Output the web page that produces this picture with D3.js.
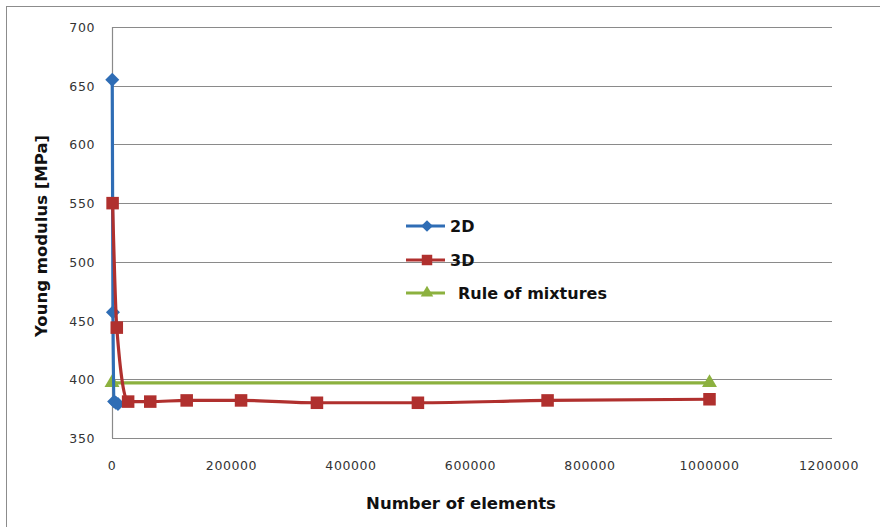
<!DOCTYPE html>
<html>
<head>
<meta charset="utf-8">
<script src="https://cdn.jsdelivr.net/npm/d3@7"></script>
<style>
  body { margin: 0; background: #fff; }
  svg { display: block; font-family: "DejaVu Sans", Verdana, sans-serif; }
</style>
</head>
<body>
<svg id="chart" width="880" height="527"></svg>
<script>
// data
var elements2D = [400, 1600, 3600, 6400, 10000];
var modulus2D = [655, 457, 381, 380, 379];
var elements3D = [1000, 8000, 27000, 64000, 125000, 216000, 343000, 512000, 729000, 1000000];
var modulus3D = [550, 444, 381, 381, 382, 382, 380, 380, 382, 383];
var elementsRule = [0, 1000000];
var modulusRule = [397, 397];
var xTicks = [0, 200000, 400000, 600000, 800000, 1000000, 1200000];
var yTicks = [350, 400, 450, 500, 550, 600, 650, 700];
var seriesNames = ["2D", "3D", "Rule of mixtures"];

var svg = d3.select("#chart");

var x = d3.scaleLinear().domain([0, 1200000]).range([112, 829]);
var y = d3.scaleLinear().domain([350, 700]).range([438, 27]);

// outer chart border (runs off the right and bottom edge)
svg.append("rect")
  .attr("x", 6.5).attr("y", 6.5)
  .attr("width", 900).attr("height", 540)
  .attr("fill", "none")
  .attr("stroke", "#8c8c8c")
  .attr("stroke-width", 1);

// horizontal grid lines
svg.append("g")
  .selectAll("line")
  .data(yTicks)
  .join("line")
  .attr("x1", x(0)).attr("x2", 832)
  .attr("y1", function(d) { return Math.round(y(d)) + 0.5; })
  .attr("y2", function(d) { return Math.round(y(d)) + 0.5; })
  .attr("stroke", "#8a8a8a")
  .attr("stroke-width", 1.2);

// left axis line
svg.append("line")
  .attr("x1", x(0) + 0.5).attr("x2", x(0) + 0.5)
  .attr("y1", y(700)).attr("y2", y(350))
  .attr("stroke", "#8a8a8a")
  .attr("stroke-width", 1.2);

// tick labels
svg.append("g")
  .selectAll("text")
  .data(yTicks)
  .join("text")
  .attr("x", 95)
  .attr("y", function(d) { return y(d) + 5; })
  .attr("text-anchor", "end")
  .attr("font-size", 12.5)
  .attr("letter-spacing", 0.6)
  .attr("fill", "#333")
  .text(function(d) { return d; });

svg.append("g")
  .selectAll("text")
  .data(xTicks)
  .join("text")
  .attr("x", function(d) { return x(d); })
  .attr("y", 470)
  .attr("text-anchor", "middle")
  .attr("font-size", 12.5)
  .attr("letter-spacing", 0.6)
  .attr("fill", "#333")
  .text(function(d) { return d; });

// axis titles
svg.append("text")
  .attr("x", 461).attr("y", 509)
  .attr("text-anchor", "middle")
  .attr("font-size", 16.5)
  .attr("font-weight", "bold")
  .attr("fill", "#111")
  .text("Number of elements");

svg.append("text")
  .attr("transform", "translate(47,236) rotate(-90)")
  .attr("text-anchor", "middle")
  .attr("font-size", 16.5)
  .attr("font-weight", "bold")
  .attr("fill", "#111")
  .text("Young modulus [MPa]");

var line = d3.line()
  .curve(d3.curveMonotoneX)
  .x(function(d) { return x(d[0]); })
  .y(function(d) { return y(d[1]); });

var series = [
  { name: seriesNames[0], color: "#2f6db5", shape: d3.symbolDiamond2, size: 125,
    pts: d3.zip(elements2D, modulus2D) },
  { name: seriesNames[1], color: "#b0302e", shape: d3.symbolSquare2, size: 200,
    pts: d3.zip(elements3D, modulus3D) },
  { name: seriesNames[2], color: "#8cb13f", shape: d3.symbolTriangle2, size: 160,
    pts: d3.zip(elementsRule, modulusRule) }
];

// draw rule of mixtures first, then 2D, then 3D on top
[series[2], series[0], series[1]].forEach(function(s) {
  var g = svg.append("g");
  g.append("path")
    .attr("d", line(s.pts))
    .attr("fill", "none")
    .attr("stroke", s.color)
    .attr("stroke-width", 3.2)
    .attr("stroke-linejoin", "round");
  g.selectAll("path.m")
    .data(s.pts)
    .join("path")
    .attr("class", "m")
    .attr("transform", function(d) { return "translate(" + x(d[0]) + "," + y(d[1]) + ")"; })
    .attr("d", d3.symbol().type(s.shape).size(s.size))
    .attr("fill", s.color);
});

// legend (sits inside the plot area)
var legendY = [226, 260, 293];
var legendTextX = [450, 450, 458];
series.forEach(function(s, i) {
  var g = svg.append("g");
  g.append("line")
    .attr("x1", 406).attr("x2", 445)
    .attr("y1", legendY[i]).attr("y2", legendY[i])
    .attr("stroke", s.color)
    .attr("stroke-width", 3.2);
  g.append("path")
    .attr("transform", "translate(427," + legendY[i] + ")")
    .attr("d", d3.symbol().type(s.shape).size(s.size * 0.7))
    .attr("fill", s.color);
  g.append("text")
    .attr("x", legendTextX[i])
    .attr("y", legendY[i] + 6)
    .attr("font-size", 16)
    .attr("font-weight", "bold")
    .attr("fill", "#111")
    .text(s.name);
});
</script>
</body>
</html>
